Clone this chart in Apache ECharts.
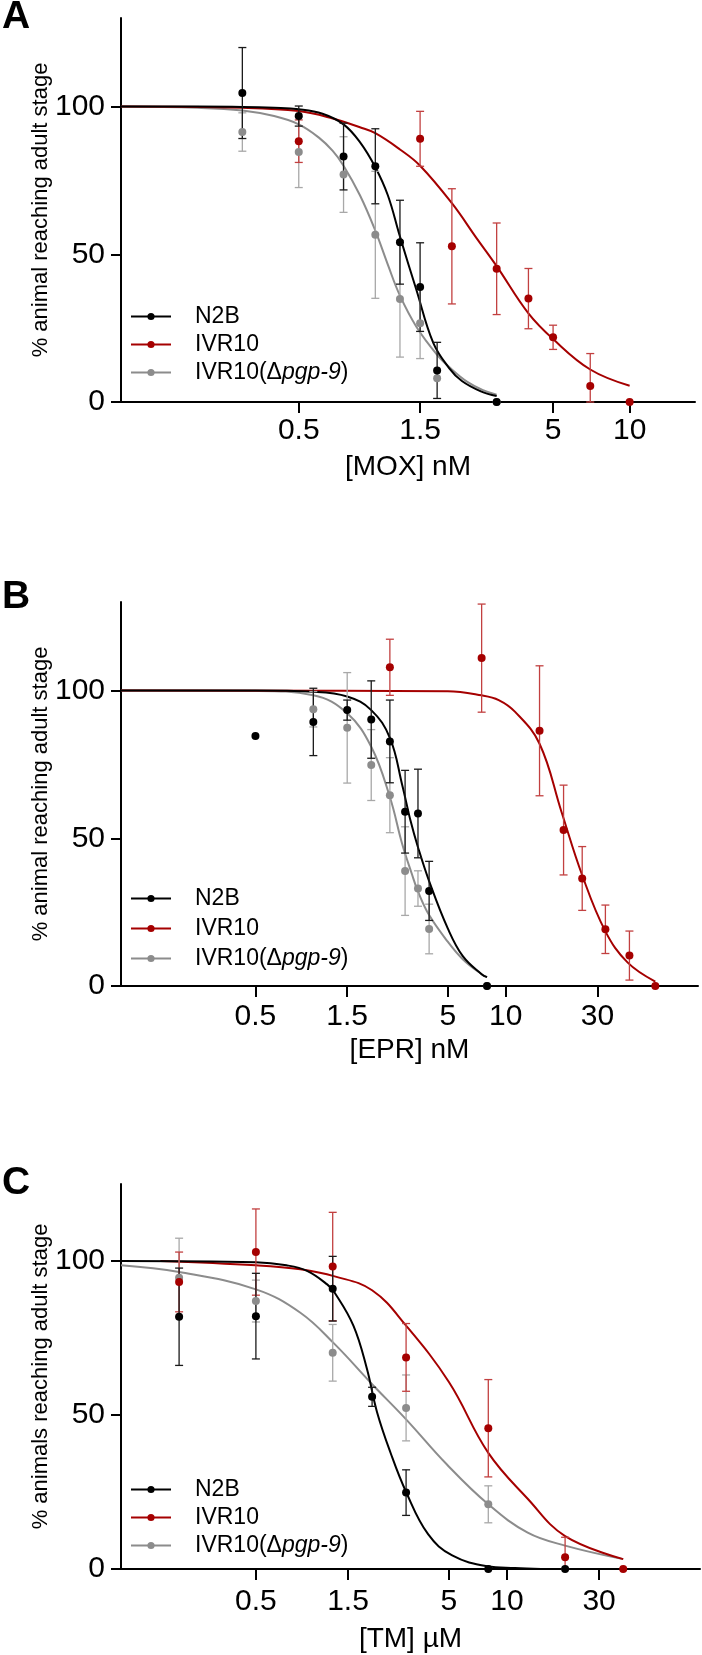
<!DOCTYPE html>
<html>
<head>
<meta charset="utf-8">
<script src="https://cdn.jsdelivr.net/npm/echarts@6/dist/echarts.min.js"></script>
<style>
  html, body { margin: 0; padding: 0; background: #fff; }
  #chart { width: 702px; height: 1655px; }
</style>
</head>
<body>
<div id="chart"></div>
<script>
// strain names
var names = ['N2B', 'IVR10', 'IVR10(Δpgp-9)'];
var colors = ['#000000', '#a50000', '#8c8c8c'];
var errColors = ['#1a1a1a', '#c24040', '#a8a8a8'];

// A - MOX, points are [conc nM, mean %, error]
var moxTicks = [0.5, 1.5, 5, 10];
var moxN2B = [[0.3, 104.6, 15.4], [0.5, 96.8, 3.4], [0.75, 83.1, 11.3], [1.0, 79.8, 12.7], [1.25, 54.1, 14.2], [1.5, 38.9, 15], [1.75, 10.7, 9.5], [3, 0, 0]];
var moxIVR10 = [[0.5, 88.3, 7.2], [1.5, 89.1, 9.3], [2.0, 52.7, 19.5], [3.0, 45.1, 15.5], [4.0, 35.0, 10.2], [5.0, 21.9, 4.1], [7.0, 5.4, 11], [10, 0, 0]];
var moxPgp9 = [[0.3, 91.4, 6.5], [0.5, 84.6, 12], [0.75, 77.0, 12.8], [1.0, 56.6, 21.5], [1.25, 34.9, 19.7], [1.5, 26.7, 12], [1.75, 8.0, 0], [3, 0, 0]];
var moxN2BFit = [[0.1, 100], [0.2, 100], [0.3, 99.9], [0.4, 99.6], [0.5, 99.1], [0.62, 97.6], [0.75, 94], [0.87, 88], [1.0, 79.5], [1.12, 70], [1.25, 56], [1.45, 38], [1.69, 20], [1.95, 11.5], [2.19, 7.1], [2.6, 3.6], [3.0, 2]];
var moxIVR10Fit = [[0.1, 100], [0.3, 99.6], [0.5, 98.5], [0.68, 96], [0.87, 93], [1.0, 91], [1.25, 85.5], [1.5, 80], [2.0, 67.3], [2.5, 55.5], [3.0, 46], [4.0, 30], [5.0, 21.3], [7.0, 11], [10, 5.5]];
var moxPgp9Fit = [[0.1, 100], [0.2, 99.6], [0.3, 98.7], [0.4, 96.8], [0.5, 94], [0.6, 89.5], [0.68, 85], [0.75, 80], [0.87, 70], [1.0, 58], [1.12, 46.5], [1.25, 36], [1.45, 25.5], [1.75, 16], [2.0, 11], [2.3, 6.8], [2.65, 4], [3.0, 2.5]];

// B - EPR
var eprTicks = [0.5, 1.5, 5, 10, 30];
var eprN2B = [[0.5, 84.6, 0], [1.0, 89.4, 11.4], [1.5, 93.4, 3.4], [2.0, 90.2, 13.1], [2.5, 82.8, 14], [3.0, 59, 14], [3.5, 58.4, 15], [4.0, 32.2, 10], [8, 0, 0]];
var eprIVR10 = [[2.5, 107.9, 9.5], [7.5, 111, 18.3], [15, 86.4, 22], [20, 52.8, 15.2], [25, 36.4, 10.8], [33, 19.2, 8.2], [44, 10.3, 8.3], [60, 0, 0]];
var eprPgp9 = [[1.0, 93.7, 6], [1.5, 87.4, 18.7], [2.0, 74.8, 12], [2.5, 64.6, 12.7], [3.0, 38.9, 15], [3.5, 33, 6], [4.0, 19.3, 8.4], [8, 0, 0]];
var eprN2BFit = [[0.1, 100], [0.5, 100], [1.0, 99.6], [1.5, 98], [2.0, 93.4], [2.5, 84], [2.9, 68], [3.2, 56], [3.5, 47], [4.0, 35.5], [5.0, 19.5], [6.0, 10], [7.5, 4], [8.0, 3]];
var eprIVR10Fit = [[0.1, 100], [5, 99.8], [7.5, 98.4], [9.2, 96.8], [11.2, 92.8], [15, 82], [19.5, 59], [25, 37.5], [33, 18.5], [43, 8], [60, 1.5]];
var eprPgp9Fit = [[0.1, 100], [0.5, 99.9], [1.0, 98.4], [1.5, 92.3], [2.0, 81], [2.5, 64], [2.9, 48], [3.25, 38], [3.5, 32], [4.0, 24], [5.0, 15], [6.0, 9], [7.5, 4], [8.0, 3]];

// C - TM
var tmTicks = [0.5, 1.5, 5, 10, 30];
var tmN2B = [[0.2, 81.9, 15.8], [0.5, 82.1, 13.9], [1.25, 91, 10.5], [2, 55.9, 3.1], [3, 24.8, 7.4], [8, 0, 0], [20, 0, 0]];
var tmIVR10 = [[0.2, 93.2, 9.7], [0.5, 102.9, 14], [1.25, 98.2, 17.6], [3, 68.7, 11], [8, 45.7, 15.8], [20, 3.8, 6.5], [40, 0, 0]];
var tmPgp9 = [[0.2, 94.6, 12.8], [0.5, 87, 6.8], [1.25, 70.2, 9.2], [3, 52.3, 10.7], [8, 21, 6]];
var tmN2BFit = [[0.1, 100], [0.5, 99.6], [0.72, 98.6], [0.92, 96.8], [1.17, 92.4], [1.28, 89.7], [1.6, 79], [1.88, 65], [2.12, 51], [2.5, 37.5], [3.0, 25], [3.9, 11.3], [5.2, 4.4], [7.9, 0.9], [11, 0.3], [15, 0]];
var tmIVR10Fit = [[0.16, 100], [0.5, 98.6], [0.85, 97.3], [1.28, 95], [2.0, 90.5], [3.0, 79], [5.0, 60.7], [8, 37.7], [12.8, 22.8], [20, 10.7], [40, 3.2]];
var tmPgp9Fit = [[0.1, 98.6], [0.2, 96.4], [0.5, 90.8], [0.85, 83.2], [1.28, 73], [2.0, 60], [3.0, 48.6], [4.87, 34], [8, 21], [12.8, 11.8], [20, 7.6], [40, 3.2]];

var font = 'Liberation Sans, Arial, sans-serif';
var myChart = echarts.init(document.getElementById('chart'), null, { renderer: 'canvas' });

function lg(v) {
    return Math.log(v) / Math.LN10;
}

function logLabel(v) {
    return String(Math.round(Math.pow(10, v) * 10) / 10);
}

// error bar with caps
function errRender(params, api) {
    var x = api.value(0), m = api.value(1), e = api.value(2);
    var top = api.coord([x, m + e]);
    var bot = api.coord([x, Math.max(0, m - e)]);
    var w = 4;
    var st = { stroke: api.visual('color'), lineWidth: 1.3 };
    return {
        type: 'group',
        children: [
            { type: 'line', shape: { x1: top[0], y1: top[1], x2: bot[0], y2: bot[1] }, style: st },
            { type: 'line', shape: { x1: top[0] - w, y1: top[1], x2: top[0] + w, y2: top[1] }, style: st },
            { type: 'line', shape: { x1: bot[0] - w, y1: bot[1], x2: bot[0] + w, y2: bot[1] }, style: st }
        ]
    };
}

var grids = [
    { left: 121, right: 7, top: 18, bottom: 1253 },
    { left: 121, right: 4, top: 602, bottom: 669 },
    { left: 121, right: 2, top: 1184, bottom: 86 }
];
grids.forEach(function (g) { g.outerBoundsMode = 'none'; });

var panels = [
    { ticks: moxTicks, xmax: 1.257, ymax: 130, xname: '[MOX] nM', yname: '% animal reaching adult stage', labelGap: 14, nameGap: 51,
      pts: [moxN2B, moxIVR10, moxPgp9], fits: [moxN2BFit, moxIVR10Fit, moxPgp9Fit] },
    { ticks: eprTicks, xmax: 2, ymax: 130, xname: '[EPR] nM', yname: '% animal reaching adult stage', labelGap: 16, nameGap: 50,
      pts: [eprN2B, eprIVR10, eprPgp9], fits: [eprN2BFit, eprIVR10Fit, eprPgp9Fit] },
    { ticks: tmTicks, xmax: 2, ymax: 125, xname: '[TM] µM', yname: '% animals reaching adult stage', labelGap: 18, nameGap: 56,
      pts: [tmN2B, tmIVR10, tmPgp9], fits: [tmN2BFit, tmIVR10Fit, tmPgp9Fit] }
];

var xAxes = [], yAxes = [], series = [];

panels.forEach(function (p, gi) {
    var tv = p.ticks.map(lg);
    xAxes.push({
        gridIndex: gi, type: 'value', min: -1, max: p.xmax,
        axisLine: { onZero: false, lineStyle: { color: '#000', width: 2 } },
        axisTick: { length: 11, customValues: tv, lineStyle: { color: '#000', width: 2 } },
        axisLabel: { customValues: tv, formatter: logLabel, fontSize: 30, color: '#000', fontFamily: font, margin: p.labelGap },
        splitLine: { show: false },
        name: p.xname, nameLocation: 'middle', nameGap: p.nameGap,
        nameTextStyle: { fontSize: 28, color: '#000', fontFamily: font }
    });
    yAxes.push({
        gridIndex: gi, type: 'value', min: 0, max: p.ymax,
        axisLine: { show: true, onZero: false, lineStyle: { color: '#000', width: 2 } },
        axisTick: { show: true, length: 10, customValues: [0, 50, 100], lineStyle: { color: '#000', width: 2 } },
        axisLabel: { customValues: [0, 50, 100], fontSize: 30, color: '#000', fontFamily: font, margin: 16 },
        splitLine: { show: false },
        name: p.yname, nameLocation: 'middle', nameGap: 69, nameMoveOverlap: false,
        nameTextStyle: { fontSize: 22, color: '#000', fontFamily: font }
    });

    // fitted curves first, so legend icons come from them
    [2, 1, 0].forEach(function (k) {
        series.push({
            name: names[k], type: 'line', xAxisIndex: gi, yAxisIndex: gi,
            smooth: 0.4, showSymbol: false, symbol: 'circle', symbolSize: 8,
            lineStyle: { color: colors[k], width: 2 }, itemStyle: { color: colors[k] },
            data: p.fits[k].map(function (d) { return [lg(d[0]), d[1]]; }),
            z: 2, silent: true
        });
    });
    [2, 1, 0].forEach(function (k) {
        series.push({
            name: names[k] + ' sd', type: 'custom', xAxisIndex: gi, yAxisIndex: gi,
            renderItem: errRender, itemStyle: { color: errColors[k] },
            encode: { x: 0, y: 1 },
            data: p.pts[k].filter(function (d) { return d[2] > 0; }).map(function (d) { return [lg(d[0]), d[1], d[2]]; }),
            z: 3, silent: true
        });
        series.push({
            name: names[k], type: 'scatter', xAxisIndex: gi, yAxisIndex: gi,
            symbolSize: 8, itemStyle: { color: colors[k], opacity: 1 },
            data: p.pts[k].map(function (d) { return [lg(d[0]), d[1]]; }),
            z: 4, silent: true
        });
    });
});

function legendAt(top, gap) {
    return {
        orient: 'vertical', left: 130, top: top, padding: 0,
        itemWidth: 40, itemHeight: 9, itemGap: gap, selectedMode: false,
        data: names,
        formatter: function (name) {
            if (name === 'IVR10(Δpgp-9)') return '{n|IVR10(Δ}{i|pgp-9}{n|)}';
            return '{n|' + name + '}';
        },
        textStyle: {
            padding: [0, 0, 0, 19],
            rich: {
                n: { fontSize: 23, lineHeight: 26, color: '#000', fontFamily: font },
                i: { fontSize: 23, lineHeight: 26, color: '#000', fontFamily: font, fontStyle: 'italic' }
            }
        }
    };
}

var option = {
    animation: false,
    backgroundColor: '#fff',
    title: [
        { text: 'A', left: 2, top: -2, padding: 0, textStyle: { fontSize: 39, fontWeight: 'bold', color: '#000', fontFamily: font } },
        { text: 'B', left: 2, top: 578, padding: 0, textStyle: { fontSize: 39, fontWeight: 'bold', color: '#000', fontFamily: font } },
        { text: 'C', left: 2, top: 1164, padding: 0, textStyle: { fontSize: 39, fontWeight: 'bold', color: '#000', fontFamily: font } }
    ],
    legend: [legendAt(305, 5), legendAt(887, 7), legendAt(1478, 5)],
    grid: grids,
    xAxis: xAxes,
    yAxis: yAxes,
    series: series
};

myChart.setOption(option);
</script>
</body>
</html>
